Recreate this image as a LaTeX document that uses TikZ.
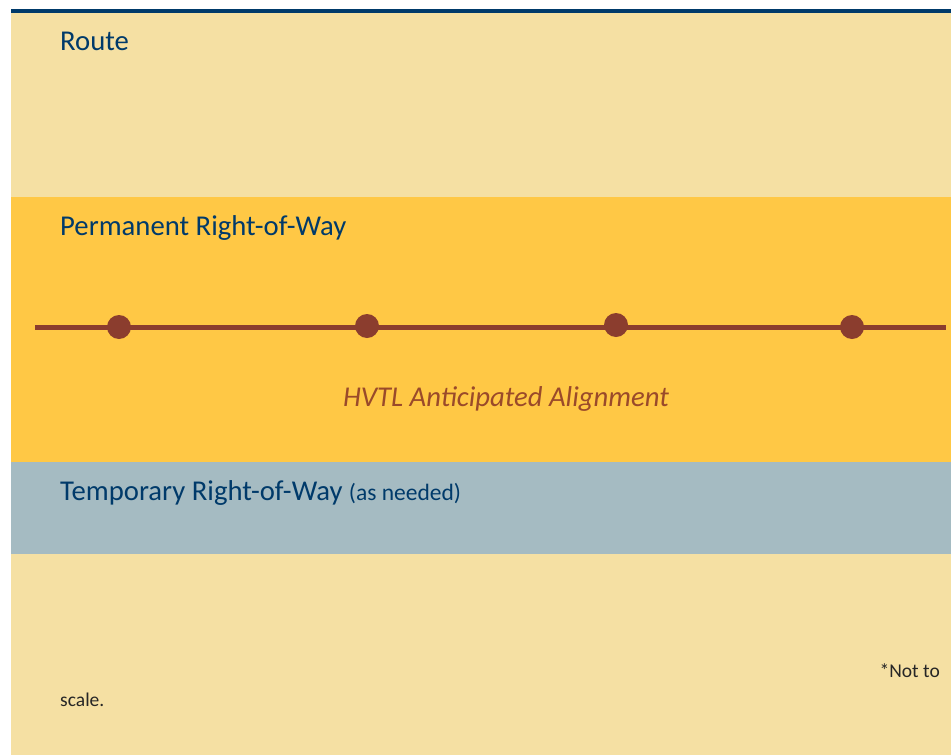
\documentclass[tikz,border=0pt]{standalone}
\usepackage{fontspec}
\setmainfont{Carlito}
\definecolor{routeyel}{HTML}{F5E0A3}
\definecolor{permyel}{HTML}{FFC845}
\definecolor{tempblue}{HTML}{A5BBC2}
\definecolor{navy}{HTML}{003A6A}
\definecolor{hvtl}{HTML}{8B3D2E}
\definecolor{hvtltext}{HTML}{9A4A2A}
\tikzset{
  band/.style={fill=#1, draw=none},
  title/.style={anchor=base west, inner sep=0pt, text=navy, font=\fontsize{28.7}{32}\selectfont},
  tower/.style={circle, fill=hvtl, minimum size=24pt, inner sep=0pt},
  note/.style={inner sep=0pt, text=black!85, font=\fontsize{19.5}{24}\selectfont}
}
\begin{document}
\begin{tikzpicture}[x=1pt,y=-1pt]
\useasboundingbox (0,0) rectangle (951,755);
\fill[white] (0,0) rectangle (951,755);
\fill[band=routeyel] (11,12) rectangle (951,197);
\fill[band=permyel] (11,197) rectangle (951,462);
\fill[band=tempblue] (11,462) rectangle (951,554);
\fill[band=routeyel] (11,554) rectangle (951,755);
\fill[navy] (11,9) rectangle (951,13);

\node[title] (route) at (60,50) {Route};
\node[title] (perm) at (60,235) {Permanent Right-of-Way};
\node[title] (temp) at (60,500) {Temporary Right-of-Way {\fontsize{23.5}{26}\selectfont(as needed)}};

\coordinate (lineL) at (35,327);
\coordinate (lineR) at (946,327);
\draw[hvtl, line width=5pt] (lineL) -- (lineR);
\node[tower] (t1) at (119,327) {};
\node[tower] (t2) at (367,326) {};
\node[tower] (t3) at (616,325) {};
\node[tower] (t4) at (852,327) {};

\node[anchor=base, inner sep=0pt, text=hvtltext, font=\itshape\fontsize{28.7}{32}\selectfont] (align) at (506,406) {HVTL Anticipated Alignment};

\node[note, anchor=base east] (nts) at (940,677) {*Not to};
\node[note, anchor=base west] (scale) at (60,706) {scale.};
\end{tikzpicture}
\end{document}
